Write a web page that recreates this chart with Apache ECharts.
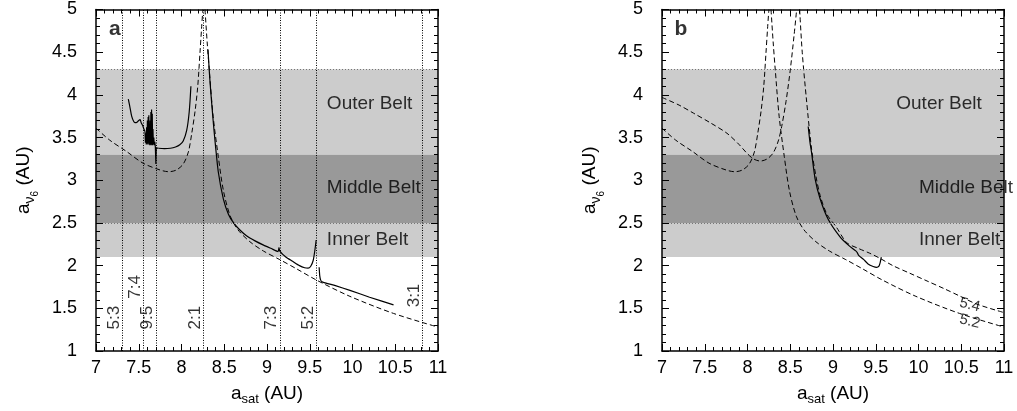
<!DOCTYPE html>
<html><head><meta charset="utf-8">
<script src="https://cdn.jsdelivr.net/npm/echarts@6/dist/echarts.min.js"></script>
<style>html,body{margin:0;padding:0;background:#fff}#c{width:1017px;height:411px}</style>
</head><body><div id="c"></div>
<script>
// ---------------- DATA ----------------
const xMin = 7, xMax = 11, xStep = 0.5;
const yMin = 1, yMax = 5, yStep = 0.5;

const beltNames = ['Outer Belt', 'Middle Belt', 'Inner Belt'];
const beltLow = [3.3, 2.5, 2.1];
const beltHigh = [4.3, 3.3, 2.5];

const resonanceNames = ['5:3', '7:4', '9:5', '2:1', '7:3', '5:2', '3:1'];
const resonanceA = [7.308, 7.55, 7.70, 8.255, 9.148, 9.58, 10.82];

// dashed curve (Jupiter at 5.2 AU) - used in both panels
const curve52Left = [[7.0,3.61],[7.16,3.47],[7.36,3.335],[7.55,3.20],[7.75,3.12],[7.85,3.10],[7.94,3.12],[8.02,3.19],[8.08,3.33],[8.12,3.55],[8.16,3.82],[8.19,4.10],[8.216,4.49],[8.236,4.80],[8.25,5.0]];
const curve52Right = [[8.275,5.0],[8.30,4.62],[8.325,4.29],[8.37,3.75],[8.43,3.28],[8.49,2.88],[8.57,2.58],[8.66,2.42],[8.80,2.28],[8.96,2.17],[9.15,2.07],[9.35,1.96],[9.58,1.83],[9.97,1.64],[10.48,1.44],[11.0,1.28]];

// dashed curve (Jupiter at 5.4 AU) - panel b
const curve54Left = [[7.0,3.97],[7.2,3.88],[7.37,3.785],[7.57,3.67],[7.76,3.55],[7.90,3.42],[7.99,3.32],[8.07,3.25],[8.15,3.225],[8.23,3.25],[8.30,3.32],[8.36,3.46],[8.40,3.63],[8.45,3.92],[8.50,4.29],[8.545,4.70],[8.575,5.0]];
const curve54Right = [[8.61,5.0],[8.64,4.50],[8.69,3.94],[8.75,3.36],[8.80,3.05],[8.85,2.82],[8.93,2.60],[9.04,2.45],[9.16,2.27],[9.30,2.20],[9.43,2.145],[9.55,2.085],[9.70,2.00],[9.90,1.91],[10.10,1.82],[10.30,1.73],[10.49,1.64],[10.68,1.55],[11.0,1.45]];

// solid migration tracks, panel a
const trackA1 = [[7.378,3.95],[7.40,3.84],[7.417,3.75],[7.44,3.69],[7.456,3.675],[7.48,3.68],[7.50,3.70],[7.515,3.71],[7.53,3.67],[7.546,3.64],[7.56,3.60],[7.573,3.57]];
const trackA2 = [[7.573,3.57],[7.578,3.44],[7.583,3.55],[7.588,3.42],[7.592,3.62],[7.597,3.43],[7.601,3.70],[7.606,3.42],[7.610,3.74],[7.614,3.44],[7.618,3.76],[7.622,3.42],[7.626,3.66],[7.630,3.41],[7.634,3.70],[7.638,3.42],[7.642,3.80],[7.646,3.41],[7.650,3.83],[7.654,3.42],[7.658,3.78],[7.662,3.41],[7.666,3.60],[7.671,3.42],[7.676,3.50],[7.682,3.41],[7.688,3.45],[7.694,3.39],[7.700,3.19],[7.705,3.38],[7.73,3.375]];
const trackA3 = [[7.73,3.375],[7.80,3.37],[7.87,3.375],[7.93,3.39],[7.98,3.415],[8.02,3.46],[8.06,3.58],[8.09,3.80],[8.11,4.10]];
const trackA4 = [[8.31,4.53],[8.33,4.20],[8.35,3.94],[8.37,3.70],[8.39,3.48],[8.43,3.10],[8.49,2.78],[8.55,2.60],[8.61,2.50],[8.68,2.42],[8.76,2.35],[8.86,2.29],[8.96,2.24],[9.05,2.20],[9.13,2.165],[9.14,2.21],[9.15,2.17],[9.22,2.10],[9.30,2.05],[9.38,2.00],[9.44,1.975],[9.48,1.97],[9.51,1.99],[9.54,2.06],[9.56,2.18],[9.575,2.30]];
const trackA5 = [[9.61,1.98],[9.617,1.88],[9.628,1.83],[9.645,1.81],[9.80,1.765],[9.97,1.71],[10.2,1.63],[10.48,1.54]];

// solid migration track, panel b
const trackB = [[8.71,3.63],[8.73,3.45],[8.75,3.32],[8.79,3.02],[8.85,2.78],[8.945,2.54],[9.08,2.34],[9.18,2.24],[9.27,2.17],[9.285,2.15],[9.30,2.12],[9.36,2.07],[9.41,2.02],[9.47,1.99],[9.51,1.98],[9.535,1.99],[9.55,2.03],[9.565,2.10]];

const curveLabels = ['5.4', '5.2'];
const panelLetters = ['a', 'b'];

// ---------------- LAYOUT / STYLE ----------------
const FONT = '"Liberation Sans", Arial, Helvetica, sans-serif';
const gridTop = 9.5, gridH = 341.5, gridW = 342;
const gridLefts = [96, 662];
const beltColors = ['#cccccc', '#999999', '#cccccc'];
const resLabelShift = 0.095;
const resLabelY = {'7:4': 1.75, '3:1': 1.65};
const resLabelYDefault = 1.39;
const beltLabelX = [[9.70, 9.70, 9.70], [9.74, 10.006, 10.006]];
const beltLabelY = [3.90, 2.91, 2.30];
const curveLabelPos = [[10.60, 1.54], [10.60, 1.345]];

const xNameRich = {
  a: {fontSize: 19, fontFamily: FONT, color: '#000'},
  s: {fontSize: 13, fontFamily: FONT, color: '#000', padding: [12, 0, 0, 0]}
};
const yNameRich = {
  a: {fontSize: 19, fontFamily: FONT, color: '#000'},
  s: {fontSize: 14, fontFamily: FONT, color: '#000', padding: [12, 0, 0, 0]},
  t: {fontSize: 10, fontFamily: FONT, color: '#000', padding: [22, 0, 0, 0]}
};

function axisCommon(isX, grid, position, showLabel) {
  const o = {
    type: 'value', gridIndex: grid, position: position, z: 5,
    min: isX ? xMin : yMin, max: isX ? xMax : yMax, interval: isX ? xStep : yStep,
    axisLine: {show: true, onZero: false, lineStyle: {color: '#000', width: 1.5}},
    axisTick: {show: true, inside: true, length: 7, lineStyle: {color: '#000', width: 1}},
    minorTick: {show: true, splitNumber: 5, length: 4, lineStyle: {color: '#000', width: 1}},
    splitLine: {show: false}, minorSplitLine: {show: false},
    axisLabel: {show: showLabel, fontSize: 18, color: '#000', fontFamily: FONT, margin: isX ? 8 : 19}
  };
  if (showLabel) {
    o.nameLocation = 'middle';
    if (isX) {
      o.name = '{a|a}{s|sat}{a| (AU)}';
      o.nameGap = 30;
      o.nameTextStyle = {rich: xNameRich};
    } else {
      o.name = '{a|a}{s|\u03bd}{t|6}{a| (AU)}';
      o.nameGap = 56;
      o.nameRotate = 90;
      o.nameTextStyle = {rich: yNameRich};
    }
  }
  return o;
}

const grids = gridLefts.map(l => ({left: l, top: gridTop, width: gridW, height: gridH, outerBoundsMode: 'none'}));
const xAxes = [], yAxes = [];
for (let g = 0; g < 2; g++) {
  xAxes.push(axisCommon(true, g, 'bottom', true));
  xAxes.push(axisCommon(true, g, 'top', false));
  yAxes.push(axisCommon(false, g, 'left', true));
  yAxes.push(axisCommon(false, g, 'right', false));
}

function lineSeries(g, data, dashed, smooth) {
  return {
    type: 'line', xAxisIndex: 2 * g, yAxisIndex: 2 * g, data: data, z: 3,
    showSymbol: false, symbol: 'none', smooth: smooth, silent: true,
    lineStyle: {color: '#000', width: dashed ? 1 : 1.2, type: dashed ? [5, 3] : 'solid'}
  };
}

const series = [];
for (let g = 0; g < 2; g++) {
  series.push({
    type: 'line', xAxisIndex: 2 * g, yAxisIndex: 2 * g, z: 1, silent: true,
    data: [[xMin, yMin]], symbol: 'none', lineStyle: {opacity: 0},
    markArea: {
      silent: true,
      data: beltNames.map((n, i) => [
        {xAxis: xMin, yAxis: beltLow[i], itemStyle: {color: beltColors[i]}},
        {xAxis: xMax, yAxis: beltHigh[i]}
      ])
    },
    markLine: {
      silent: true, symbol: ['none', 'none'], label: {show: false},
      lineStyle: {type: [1, 2], color: '#777', width: 1},
      data: [{yAxis: beltHigh[0]}, {yAxis: beltHigh[2]}]
    }
  });
  series.push({
    type: 'scatter', xAxisIndex: 2 * g, yAxisIndex: 2 * g, z: 4, silent: true, symbolSize: 0,
    data: beltNames.map((n, i) => ({name: n, value: [beltLabelX[g][i], beltLabelY[i]]})),
    label: {show: true, position: 'right', distance: 0, formatter: '{b}', fontSize: 19, fontFamily: FONT, color: '#000'}
  });
  series.push({
    type: 'scatter', xAxisIndex: 2 * g, yAxisIndex: 2 * g, z: 4, silent: true, symbolSize: 0,
    data: [{name: panelLetters[g], value: [7.22, 4.77]}],
    label: {show: true, position: 'inside', formatter: '{b}', fontSize: 21, fontWeight: 'bold', fontFamily: FONT, color: '#000'}
  });
}

series.push({
  type: 'line', xAxisIndex: 0, yAxisIndex: 0, z: 2, silent: true,
  data: [[xMin, yMin]], symbol: 'none', lineStyle: {opacity: 0},
  markLine: {
    silent: true, symbol: ['none', 'none'], label: {show: false},
    lineStyle: {type: [1, 1.5], color: '#000', width: 1},
    data: resonanceA.map(v => ({xAxis: v}))
  }
});
series.push({
  type: 'scatter', xAxisIndex: 0, yAxisIndex: 0, z: 4, silent: true, symbolSize: 0,
  data: resonanceNames.map((n, i) => ({name: n, value: [resonanceA[i] - resLabelShift, resLabelY[n] || resLabelYDefault]})),
  label: {show: true, position: 'inside', rotate: 90, formatter: '{b}', fontSize: 17, fontFamily: FONT, color: '#000'}
});

series.push(lineSeries(0, curve52Left, true, 0.3));
series.push(lineSeries(0, curve52Right, true, 0.3));
series.push(lineSeries(0, trackA1, false, 0.3));
series.push(lineSeries(0, trackA2, false, false));
series.push(lineSeries(0, trackA3, false, 0.3));
series.push(lineSeries(0, trackA4, false, 0.2));
series.push(lineSeries(0, trackA5, false, 0.2));

series.push(lineSeries(1, curve52Left, true, 0.3));
series.push(lineSeries(1, curve52Right, true, 0.3));
series.push(lineSeries(1, curve54Left, true, 0.3));
series.push(lineSeries(1, curve54Right, true, 0.3));
series.push(lineSeries(1, trackB, false, 0.2));
series.push({
  type: 'scatter', xAxisIndex: 2, yAxisIndex: 2, z: 4, silent: true, symbolSize: 0,
  data: curveLabels.map((n, i) => ({name: n, value: curveLabelPos[i]})),
  label: {show: true, position: 'inside', rotate: -14, formatter: '{b}', fontSize: 15, fontFamily: FONT, color: '#000'}
});

const chart = echarts.init(document.getElementById('c'), null, {renderer: 'canvas'});
chart.setOption({
  animation: false,
  backgroundColor: '#fff',
  grid: grids,
  xAxis: xAxes,
  yAxis: yAxes,
  series: series
});
</script></body></html>
